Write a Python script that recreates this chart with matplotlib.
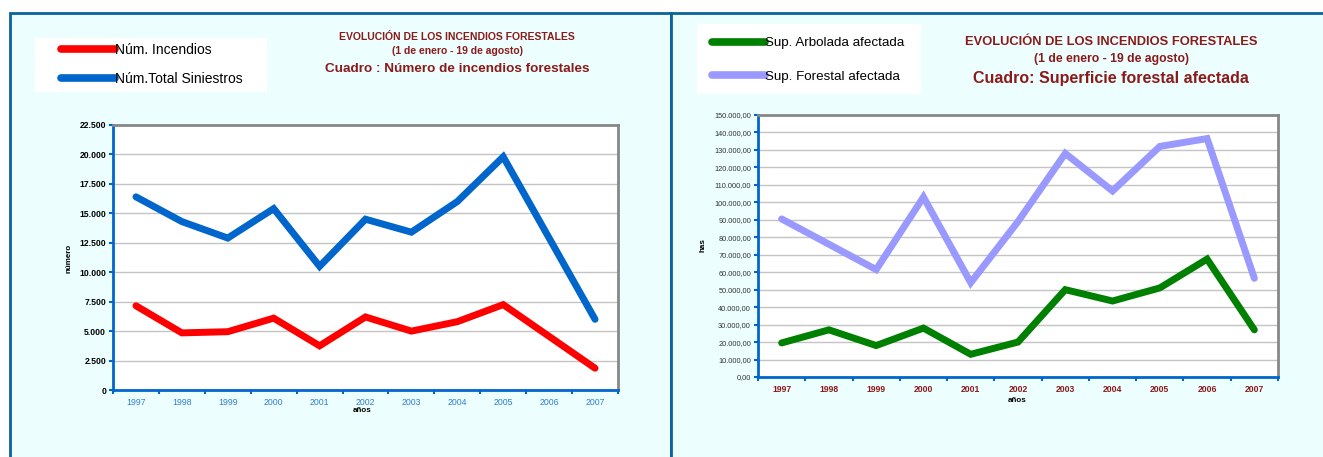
import matplotlib.pyplot as plt
from matplotlib.patches import Rectangle
from matplotlib.lines import Line2D
from matplotlib.ticker import FuncFormatter

years = ['1997', '1998', '1999', '2000', '2001', '2002', '2003', '2004', '2005', '2006', '2007']
num_incendios = [7150, 4850, 4950, 6100, 3750, 6200, 5000, 5800, 7250, 4550, 1850]
num_total = [16400, 14300, 12900, 15400, 10500, 14500, 13400, 16000, 19800, 12900, 6000]
sup_arbolada = [19500, 27000, 18000, 28000, 13000, 20000, 50000, 43500, 51000, 67500, 27000]
sup_forestal = [90500, 76000, 61500, 103000, 54000, 89000, 128000, 106500, 132000, 136500, 56500]

W, H = 1323, 457
BG = '#ECFEFE'
BORDER = '#0B6399'
DARKRED = '#8B1A1A'
NARROW = ['Liberation Sans Narrow', 'Liberation Sans', 'DejaVu Sans']
ARIAL = ['Liberation Sans', 'DejaVu Sans']


def box(x0, y0, x1, y1):
    # pixel box -> figure fraction rect
    return [x0 / W, 1 - y1 / H, (x1 - x0) / W, (y1 - y0) / H]


def px(x, y):
    return x / W, 1 - y / H


def thousands(v, pos):
    return f"{int(round(v)):,}".replace(',', '.')


def hectares(v, pos):
    s = f"{v:,.2f}"
    return s.replace(',', '#').replace('.', ',').replace('#', '.')


fig = plt.figure(figsize=(W / 100, H / 100), dpi=100)
fig.patch.set_facecolor('white')

# panel backgrounds
for x0, x1 in [(10, 671), (671, 1335)]:
    r = Rectangle(px(x0, 470), (x1 - x0) / W, (470 - 13) / H, transform=fig.transFigure,
                  facecolor=BG, edgecolor=BORDER, linewidth=2, zorder=-2)
    fig.patches.append(r)

# legend boxes
for b in [(35, 38, 267, 92), (697, 24, 921, 94)]:
    x0, y0, x1, y1 = b
    r = Rectangle(px(x0, y1), (x1 - x0) / W, (y1 - y0) / H, transform=fig.transFigure,
                  facecolor='white', edgecolor='none', zorder=-1)
    fig.patches.append(r)


def style_axes(ax, ymax, ystep):
    n = len(years)
    ax.set_facecolor('white')
    ax.set_xlim(-0.5, n - 0.5)
    ax.set_ylim(0, ymax)
    ax.set_xticks(range(n))
    ax.set_xticks([i - 0.5 for i in range(n + 1)], minor=True)
    ax.set_yticks(range(0, ymax + 1, ystep))
    ax.tick_params(axis='x', which='major', length=0, pad=6)
    ax.tick_params(axis='x', which='minor', length=3, width=1.5, color='#0066CC', direction='out')
    ax.tick_params(axis='y', length=3, width=1.5, color='#0066CC', direction='out', pad=2)
    ax.grid(axis='y', color='#C4C4C4', linewidth=1)
    ax.set_axisbelow(True)
    for s in ['left', 'bottom']:
        ax.spines[s].set_color('#0066CC')
        ax.spines[s].set_linewidth(2)
    for s in ['top', 'right']:
        ax.spines[s].set_color('#888888')
        ax.spines[s].set_linewidth(2)


# ---- left chart
ax1 = fig.add_axes(box(113, 125, 618, 390))
style_axes(ax1, 22500, 2500)
x = range(len(years))
l1, = ax1.plot(x, num_incendios, color='#FF0000', linewidth=5, solid_capstyle='round', solid_joinstyle='miter')
l2, = ax1.plot(x, num_total, color='#0066CC', linewidth=5, solid_capstyle='round', solid_joinstyle='miter')
ax1.set_xticklabels(years, fontsize=6.3, color='#2F7FD0', family=ARIAL)
ax1.yaxis.set_major_formatter(FuncFormatter(thousands))
for t in ax1.get_yticklabels():
    t.set_fontsize(6.2)
    t.set_fontweight('bold')
    t.set_family(ARIAL)
fig.text(*px(362, 411), 'años', fontsize=5.8, fontweight='bold', ha='center', va='center', family=ARIAL)
fig.text(*px(69, 258), 'número', fontsize=5.8, fontweight='bold', rotation=90, ha='center', va='center', family=ARIAL)

fig.legend([Line2D([], [], color='#FF0000', linewidth=5.5, solid_capstyle='round'),
            Line2D([], [], color='#0066CC', linewidth=5.5, solid_capstyle='round')],
           ['Núm. Incendios', 'Núm.Total Siniestros'],
           loc='upper left', bbox_to_anchor=px(48, 30), frameon=False,
           handlelength=3.9, handletextpad=0.0, labelspacing=1.1,
           prop={'family': NARROW, 'size': 10})

fig.text(*px(457, 37), 'EVOLUCIÓN DE LOS INCENDIOS FORESTALES', fontsize=7.5, fontweight='bold',
         color=DARKRED, ha='center', va='center', family=NARROW)
fig.text(*px(457, 51), '(1 de enero - 19 de agosto)', fontsize=7.5, fontweight='bold',
         color=DARKRED, ha='center', va='center', family=NARROW)
fig.text(*px(457, 69), 'Cuadro : Número de incendios forestales', fontsize=9.7, fontweight='bold',
         color=DARKRED, ha='center', va='center', family=NARROW)

# ---- right chart
ax2 = fig.add_axes(box(758, 115, 1278, 377))
style_axes(ax2, 150000, 10000)
l3, = ax2.plot(x, sup_arbolada, color='#008000', linewidth=5, solid_capstyle='round', solid_joinstyle='miter')
l4, = ax2.plot(x, sup_forestal, color='#9999FF', linewidth=5, solid_capstyle='round', solid_joinstyle='miter')
ax2.set_xticklabels(years, fontsize=6.2, color=DARKRED, fontweight='bold', family=ARIAL)
ax2.yaxis.set_major_formatter(FuncFormatter(hectares))
for t in ax2.get_yticklabels():
    t.set_fontsize(5.3)
    t.set_color('#333333')
    t.set_family(ARIAL)
fig.text(*px(1017, 400), 'años', fontsize=5.8, fontweight='bold', ha='center', va='center', family=ARIAL)
fig.text(*px(703, 245), 'has', fontsize=5.8, fontweight='bold', rotation=90, ha='center', va='center', family=ARIAL)

fig.legend([Line2D([], [], color='#008000', linewidth=5.5, solid_capstyle='round'),
            Line2D([], [], color='#9999FF', linewidth=5.5, solid_capstyle='round')],
           ['Sup. Arbolada afectada', 'Sup. Forestal afectada'],
           loc='upper left', bbox_to_anchor=px(700, 25), frameon=False,
           handlelength=4.0, handletextpad=0.0, labelspacing=1.6,
           prop={'family': NARROW, 'size': 9.6})

fig.text(*px(1111, 42), 'EVOLUCIÓN DE LOS INCENDIOS FORESTALES', fontsize=9.3, fontweight='bold',
         color=DARKRED, ha='center', va='center', family=NARROW)
fig.text(*px(1111, 59), '(1 de enero - 19 de agosto)', fontsize=8.8, fontweight='bold',
         color=DARKRED, ha='center', va='center', family=NARROW)
fig.text(*px(1111, 78), 'Cuadro: Superficie forestal afectada', fontsize=11.5, fontweight='bold',
         color=DARKRED, ha='center', va='center', family=NARROW)

fig.savefig('out.png', dpi=100, facecolor=fig.get_facecolor())
